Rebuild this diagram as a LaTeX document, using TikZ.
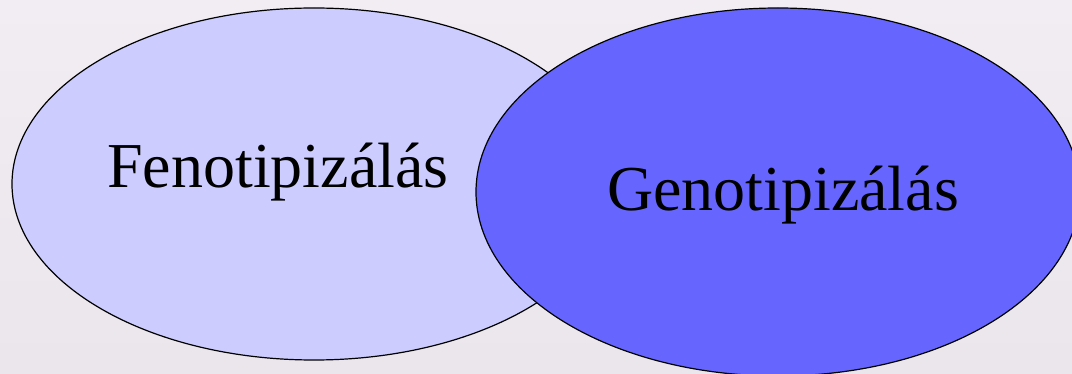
\documentclass[tikz,border=0pt]{standalone}
\usepackage{fontspec}
\setmainfont{Liberation Serif}
\begin{document}
\begin{tikzpicture}[x=1pt,y=-1pt,
  blob/.style={draw=black,line width=1.2pt},
  lbl/.style={font=\fontsize{64}{70}\selectfont,anchor=base,inner sep=0pt}]
\useasboundingbox (0,0) rectangle (1072,374);
\shade[top color={rgb,255:red,241;green,237;blue,242},bottom color={rgb,255:red,235;green,229;blue,236}] (0,0) rectangle (1072,374);
\begin{scope}
\clip (0,0) rectangle (1072,374);
\fill[fill={rgb,255:red,204;green,204;blue,255},blob] (314,184) ellipse [x radius=302, y radius=176];
\fill[fill={rgb,255:red,102;green,102;blue,255},blob] (778,192) ellipse [x radius=302, y radius=184];
\end{scope}
\node[lbl] (feno) at (278,188) {Fenotipizálás};
\node[lbl] (geno) at (783,211) {Genotipizálás};
\end{tikzpicture}
\end{document}
